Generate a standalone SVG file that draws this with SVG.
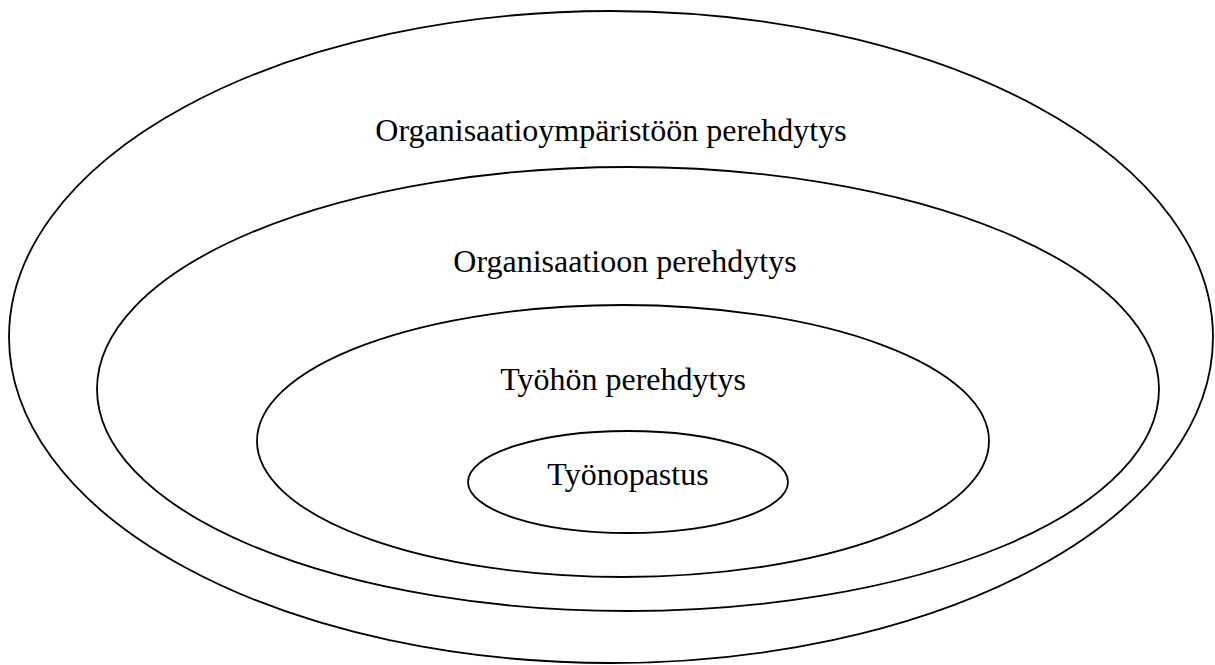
<svg xmlns="http://www.w3.org/2000/svg" width="1215" height="665" viewBox="0 0 1215 665">
<style>
.e{fill:none;stroke:#000;stroke-width:1.8}
.t{font-family:"Liberation Serif","Times New Roman",serif;font-size:32px;fill:#000;text-anchor:middle}
</style>
<rect width="1215" height="665" fill="#fff"/>
<g id="n1"><ellipse class="e" cx="611" cy="337" rx="602" ry="326"/><text class="t" x="611" y="141">Organisaatioympäristöön perehdytys</text></g>
<g id="n2"><ellipse class="e" cx="628" cy="389" rx="531" ry="222"/><text class="t" x="625" y="272">Organisaatioon perehdytys</text></g>
<g id="n3"><ellipse class="e" cx="623" cy="441" rx="366" ry="136"/><text class="t" x="623" y="390">Työhön perehdytys</text></g>
<g id="n4"><ellipse class="e" cx="628" cy="482" rx="160" ry="51"/><text class="t" x="628" y="485">Työnopastus</text></g>
<g id="connectors"/>
</svg>
